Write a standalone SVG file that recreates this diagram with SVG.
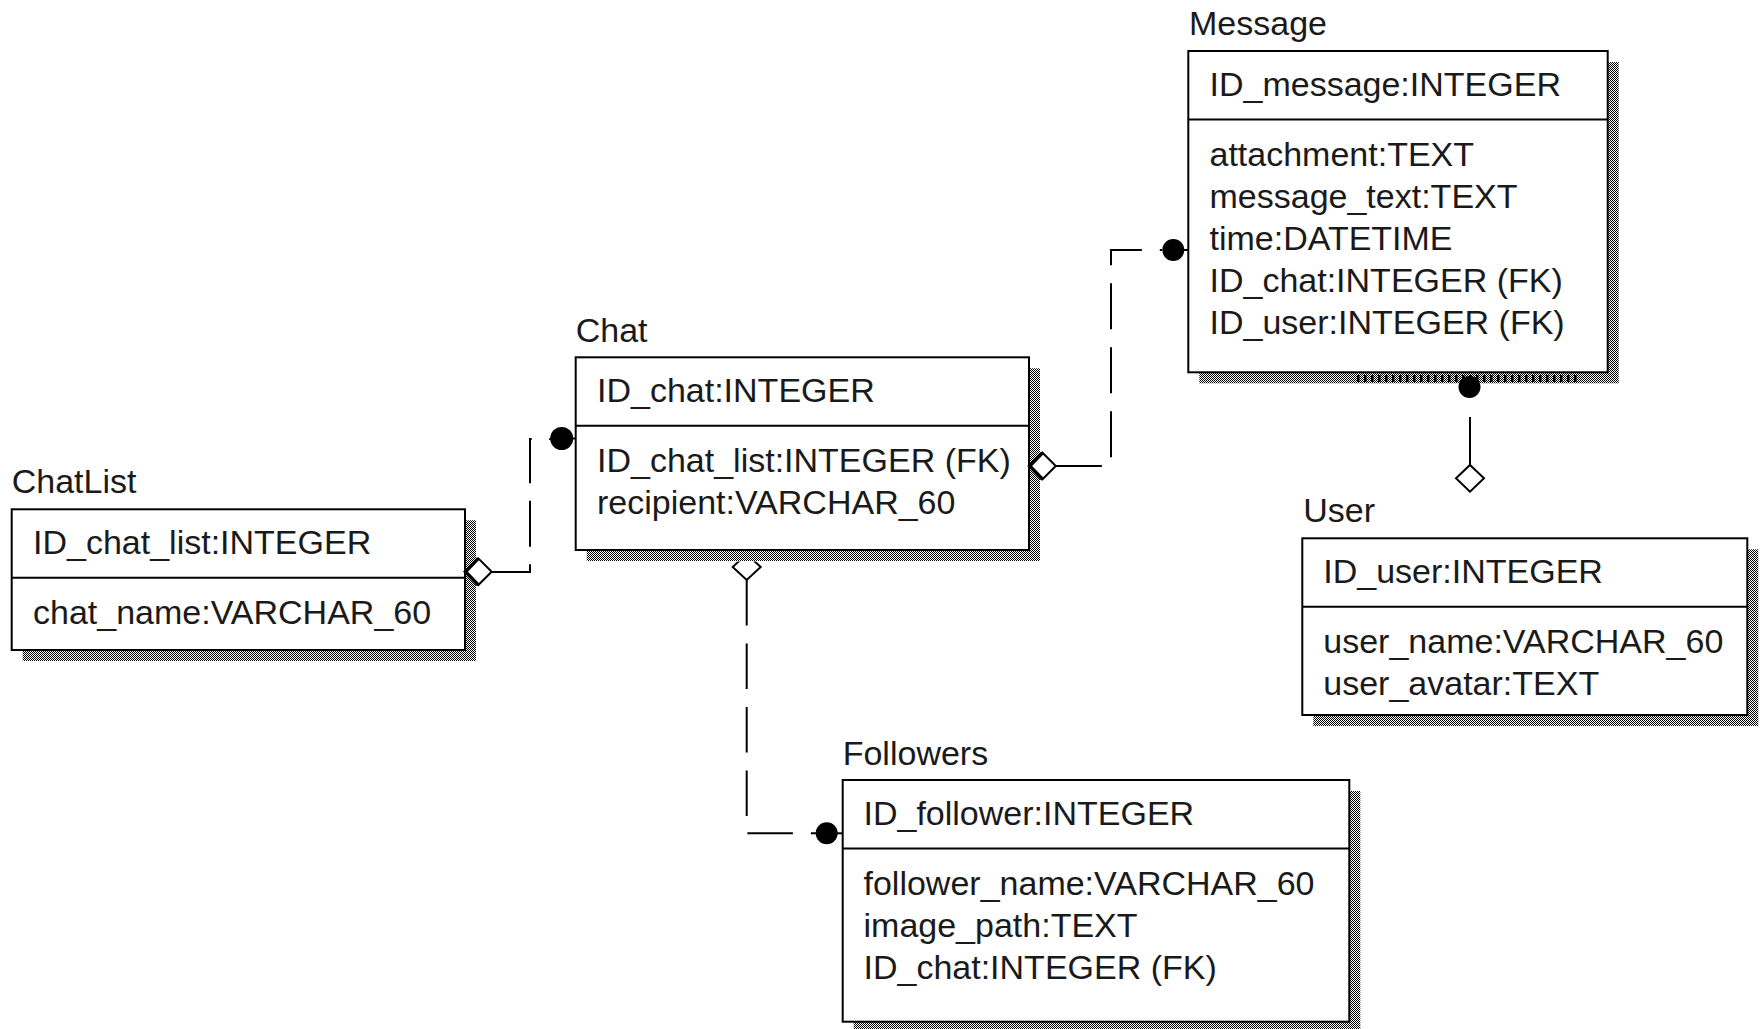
<svg xmlns="http://www.w3.org/2000/svg" width="1763" height="1029" viewBox="0 0 1763 1029">
  <defs>
    <pattern id="dots" width="2" height="2" patternUnits="userSpaceOnUse">
      <rect x="0" y="0" width="2" height="2" fill="#fff"/>
      <rect x="0" y="0" width="1" height="1" fill="#000"/>
      <rect x="1" y="1" width="1" height="1" fill="#000"/>
    </pattern>
    <clipPath id="below-shadow">
      <rect x="700" y="561.5" width="100" height="40"/>
    </clipPath>
    <style>
      text { font-family: "Liberation Sans", Arial, sans-serif; font-size: 34px; fill: #1a1a1a; }
      .box { fill: #fff; stroke: #000; stroke-width: 2; }
      .shadow { fill: url(#dots); stroke: none; }
      .div { stroke: #000; stroke-width: 2; }
      .rel { fill: none; stroke: #000; stroke-width: 2; }
      .dia { fill: #fff; stroke: #000; stroke-width: 2; }
      .thick { fill: none; stroke: #000; stroke-width: 3.5; }
      .dot { fill: #000; }
      .stub { stroke: #000; stroke-width: 2; }
    </style>
  </defs>
  <rect width="1763" height="1029" fill="#fff"/>

  <g id="node-chatlist">
    <rect class="shadow" x="22.7" y="520.3" width="453.3" height="140.7"/>
    <rect class="box" x="11.7" y="509.3" width="453.3" height="140.7"/>
    <line class="div" x1="11.7" y1="577.8" x2="465" y2="577.8"/>
    <text x="11.7" y="493.3">ChatList</text>
    <text x="33" y="554.3">ID_chat_list:INTEGER</text>
    <text x="33" y="623.8">chat_name:VARCHAR_60</text>
  </g>

  <g id="node-chat">
    <rect class="shadow" x="586.7" y="368.3" width="453.3" height="192.7"/>
    <rect class="box" x="575.7" y="357.3" width="453.3" height="192.7"/>
    <line class="div" x1="575.7" y1="425.8" x2="1029" y2="425.8"/>
    <text x="575.7" y="341.7">Chat</text>
    <text x="597" y="402.3">ID_chat:INTEGER</text>
    <text x="597" y="471.8">ID_chat_list:INTEGER (FK)</text>
    <text x="597" y="513.8">recipient:VARCHAR_60</text>
  </g>

  <g id="node-message">
    <rect class="shadow" x="1199.3" y="62" width="419.4" height="321.3"/>
    <line x1="1357" y1="378.5" x2="1578" y2="378.5" stroke="#000" stroke-width="7" stroke-dasharray="2.5 4.5"/>
    <rect class="box" x="1188.3" y="51" width="419.4" height="321.3"/>
    <line class="div" x1="1188.3" y1="119.5" x2="1607.7" y2="119.5"/>
    <text x="1189" y="35">Message</text>
    <text x="1209.5" y="96">ID_message:INTEGER</text>
    <text x="1209.5" y="165.5">attachment:TEXT</text>
    <text x="1209.5" y="207.5">message_text:TEXT</text>
    <text x="1209.5" y="249.5">time:DATETIME</text>
    <text x="1209.5" y="291.5">ID_chat:INTEGER (FK)</text>
    <text x="1209.5" y="333.5">ID_user:INTEGER (FK)</text>
  </g>

  <g id="node-user">
    <rect class="shadow" x="1313.3" y="549.3" width="445" height="176.7"/>
    <rect class="box" x="1302.3" y="538.3" width="445" height="176.7"/>
    <line class="div" x1="1302.3" y1="606.8" x2="1747.3" y2="606.8"/>
    <text x="1303.3" y="521.7">User</text>
    <text x="1323.3" y="583.3">ID_user:INTEGER</text>
    <text x="1323.3" y="652.8">user_name:VARCHAR_60</text>
    <text x="1323.3" y="694.8">user_avatar:TEXT</text>
  </g>

  <g id="node-followers">
    <rect class="shadow" x="853.7" y="791" width="506.6" height="241.7"/>
    <rect class="box" x="842.7" y="780" width="506.6" height="241.7"/>
    <line class="div" x1="842.7" y1="848.5" x2="1349.3" y2="848.5"/>
    <text x="842.7" y="765">Followers</text>
    <text x="863.5" y="825">ID_follower:INTEGER</text>
    <text x="863.5" y="894.5">follower_name:VARCHAR_60</text>
    <text x="863.5" y="936.5">image_path:TEXT</text>
    <text x="863.5" y="978.5">ID_chat:INTEGER (FK)</text>
  </g>

  <g id="connectors">
    <!-- ChatList - Chat -->
    <path class="rel" d="M491.7 572 H530 V439 H552" stroke-dasharray="46 17.5"/>
    <polygon class="dia" points="465,571.7 478.3,558.4 491.7,571.7 478.3,585"/>
    <polyline class="thick" points="478.3,558.4 465.5,571.7 478.3,585"/>
    <circle class="dot" cx="561.7" cy="438.5" r="11.5"/>
    <line class="stub" x1="561.7" y1="438.5" x2="576" y2="438.5"/>

    <!-- Chat - Message -->
    <path class="rel" d="M1055.8 466 H1111 V250 H1162" stroke-dasharray="46 18"/>
    <polygon class="dia" points="1029.2,466 1042.5,452.7 1055.8,466 1042.5,479.3"/>
    <polyline class="thick" points="1042.5,452.7 1029.7,466 1042.5,479.3"/>
    <circle class="dot" cx="1173.3" cy="250" r="11"/>
    <line class="stub" x1="1173.3" y1="250" x2="1188.3" y2="250"/>

    <!-- Chat - Followers -->
    <path class="rel" d="M746.7 580 V833.3 H816" stroke-dasharray="45.5 18"/>
    <polygon class="dia" points="746.7,554 760.7,567 746.7,580 732.7,567" clip-path="url(#below-shadow)"/>
    <circle class="dot" cx="826.7" cy="833.3" r="11"/>
    <line class="stub" x1="826.7" y1="833.3" x2="842.7" y2="833.3"/>

    <!-- Message - User -->
    <path class="rel" d="M1470 465 V399" stroke-dasharray="48 18"/>
    <polygon class="dia" points="1470,465 1484,478.3 1470,491.6 1456,478.3"/>
    <circle class="dot" cx="1469.5" cy="387" r="11"/>
  </g>
</svg>
